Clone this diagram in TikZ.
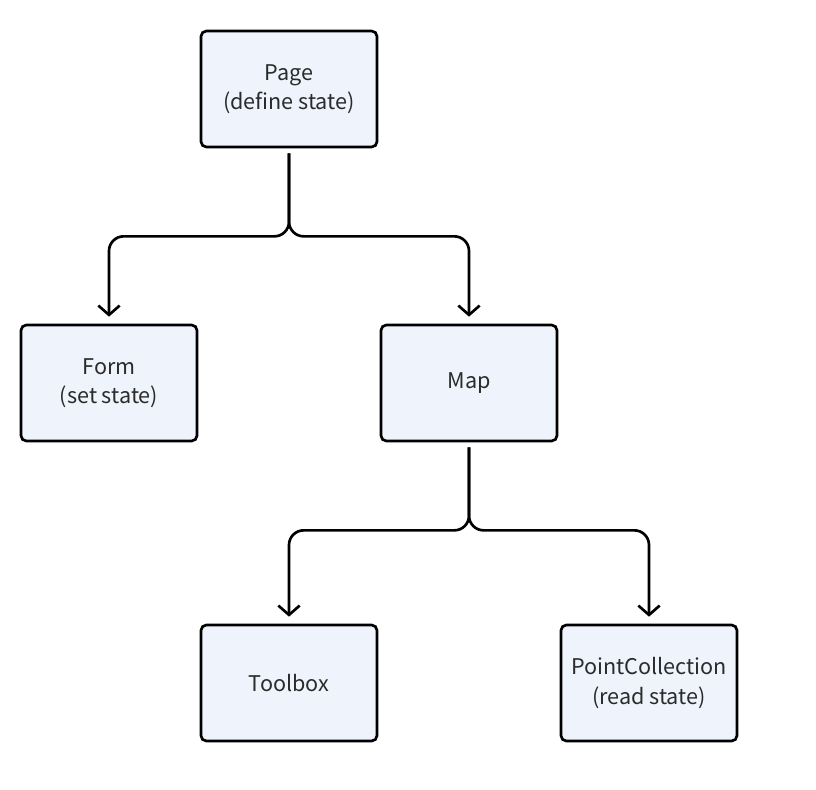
\documentclass[tikz,border=0pt]{standalone}
\usepackage{fontspec}
\setmainfont{Noto Sans CJK SC}
\usetikzlibrary{arrows.meta, calc, positioning}

\definecolor{boxfill}{HTML}{EEF3FC}
\definecolor{boxtext}{HTML}{2B2B2B}

\begin{document}
\begin{tikzpicture}[
    x=0.75pt, y=-0.75pt,
    box/.style={draw=black, line width=2pt, rounded corners=4pt, fill=boxfill,
        minimum width=132pt, minimum height=87pt, align=center,
        text=boxtext, font=\fontsize{16.2}{22}\selectfont},
    link/.style={line width=2pt, rounded corners=11pt,
        -{Straight Barb[length=7pt, width=16pt, line width=2pt]}}
    ]

    % Determines the boundries
    \path [use as bounding box] (0,0) rectangle (816,789);

    \def\gapTop{5}
    \def\gapEnd{7}
    \def\drop{83}

    % The boxes
    \node (page)    [box] at (289,89)  {Page\\(define state)};
    \node (form)    [box] at (109,383) {Form\\(set state)};
    \node (map)     [box] at (469,383) {Map};
    \node (toolbox) [box] at (289,683) {Toolbox};
    \node (points)  [box] at (649,683) {PointCollection\\(read state)};

    % Connecting parents to children
    \foreach \p/\c in {page/form, page/map, map/toolbox, map/points}{
        \draw[link] ($(\p.south)+(0,\gapTop)$) -- ++(0,\drop)
            -| ($(\c.north)-(0,\gapEnd)$);
    }

\end{tikzpicture}
\end{document}
